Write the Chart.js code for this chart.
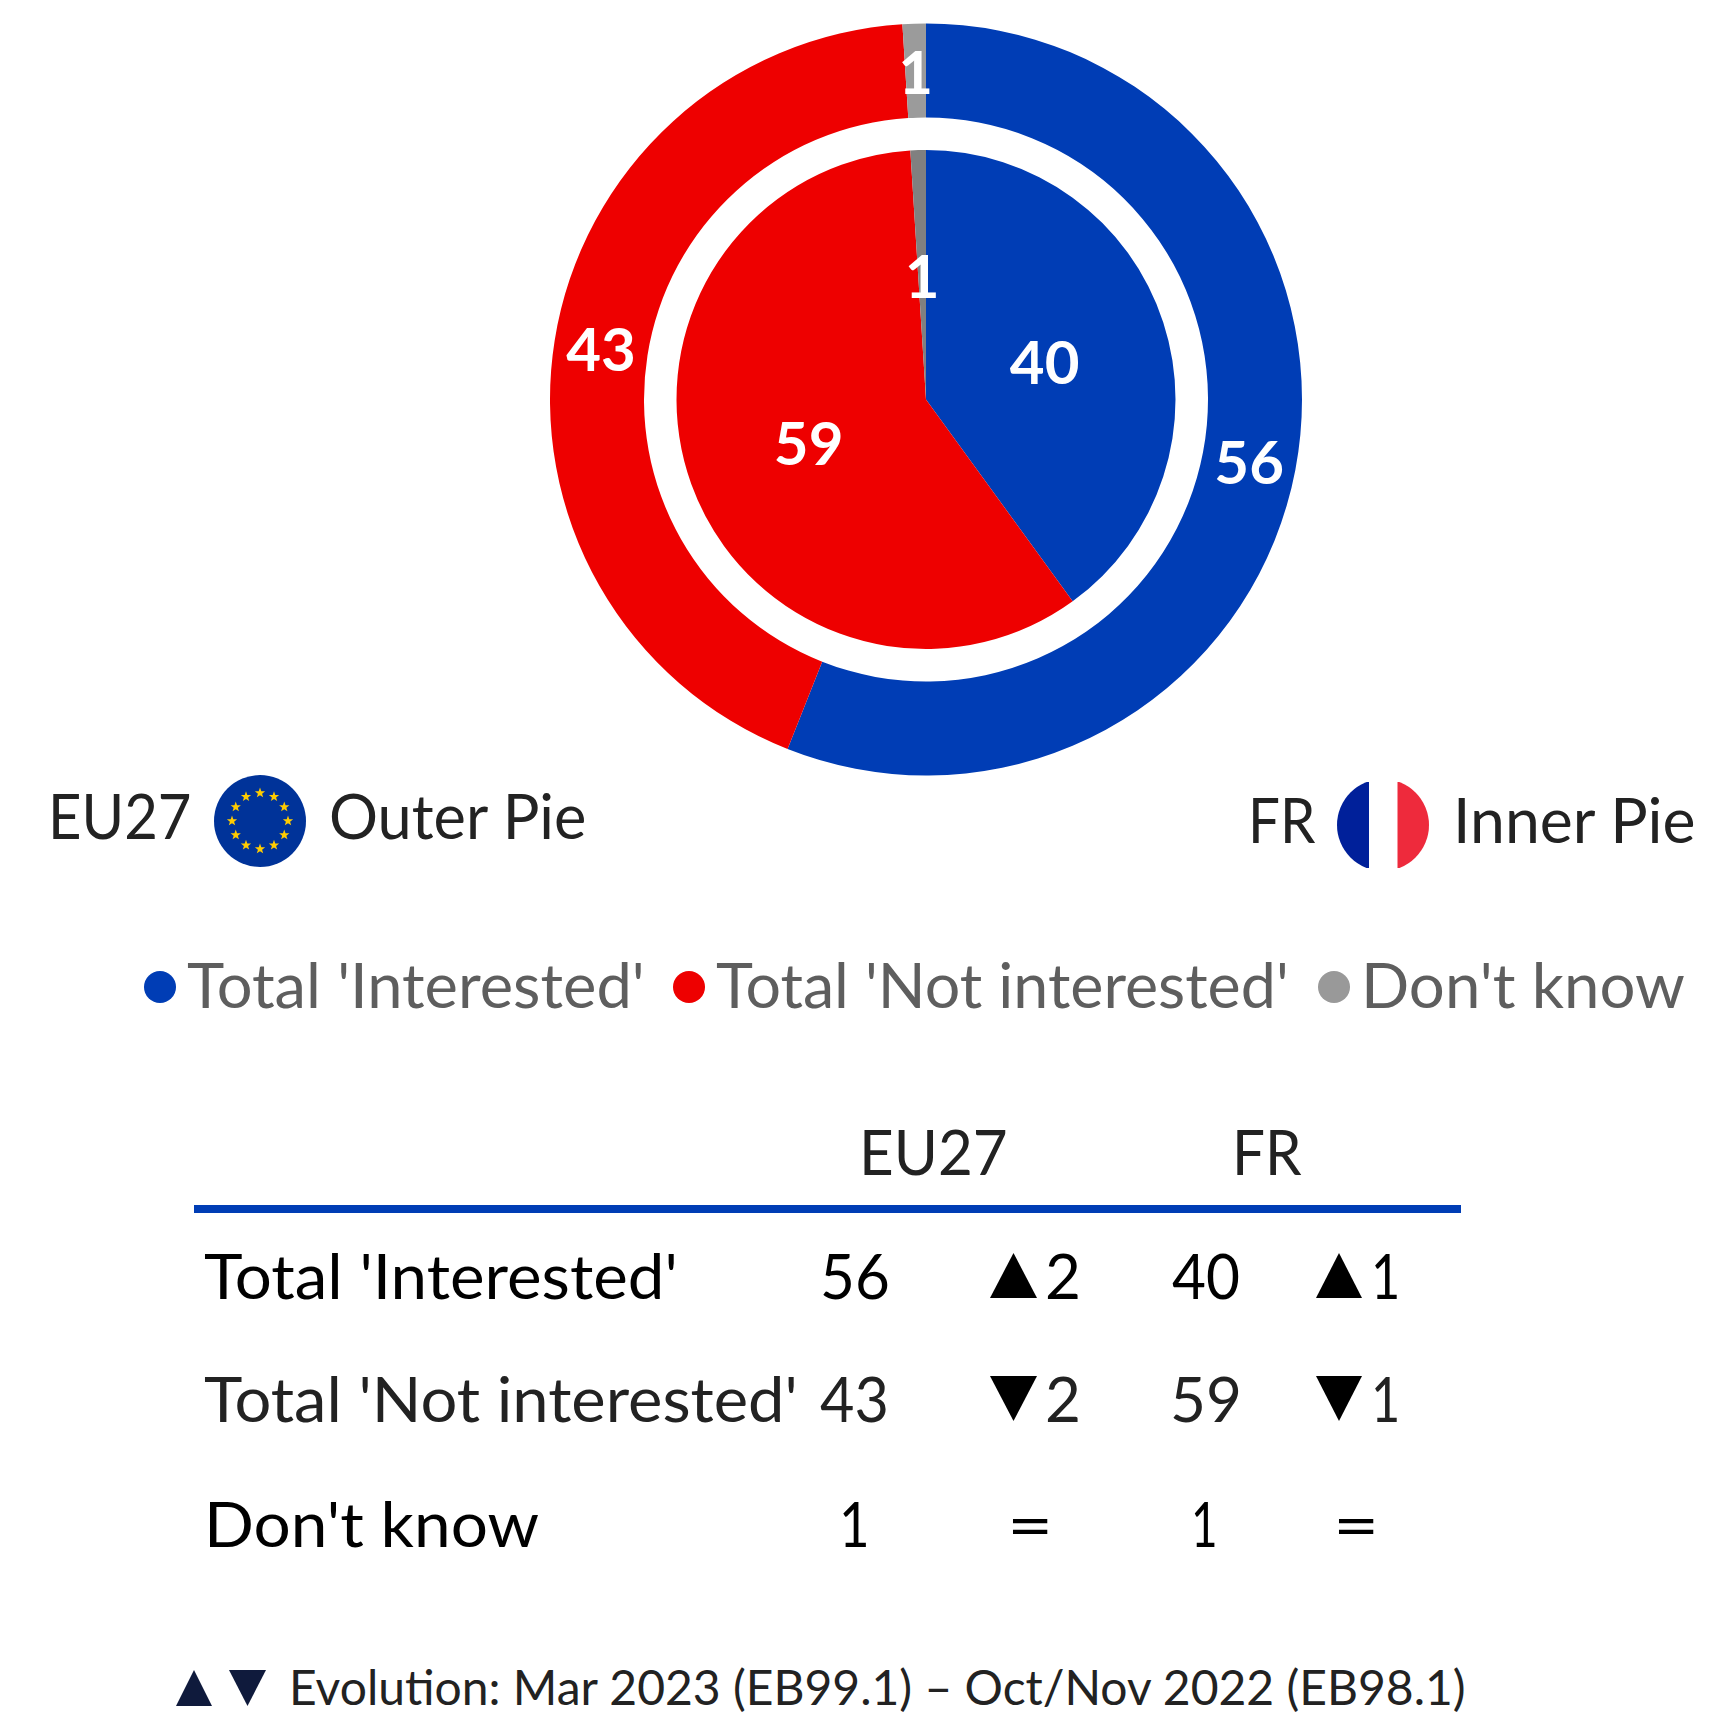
<!DOCTYPE html>
<html>
<head>
<meta charset="utf-8">
<title>Interest: EU27 and FR</title>
<script src="https://cdn.jsdelivr.net/npm/chart.js@4"></script>
<style>
html,body{margin:0;padding:0;background:#fff;width:1725px;height:1717px;overflow:hidden}
#page{position:relative;width:1725px;height:1717px;overflow:hidden}
#wrap{position:absolute;left:550px;top:23px;width:752px;height:753px}
.t{position:absolute;white-space:pre;transform-origin:0 0}
.s{position:absolute}
</style>
</head>
<body>
<div id="page"><div id="wrap"><canvas id="c" width="752" height="753"></canvas></div></div>
<script>
const categories = ["Total 'Interested'", "Total 'Not interested'", "Don't know"];
const eu27Values = [56, 43, 1];
const frValues = [40, 59, 1];
const eu27Changes = [2, -2, 0];
const frChanges = [1, -1, 0];
const eu27Colors = ['#003DB5', '#EE0000', '#9B9B9B'];
const frColors = ['#003DB5', '#EE0000', '#808080'];
const legendDotColors = ['#003DB5', '#EE0000', '#999999'];
const footnote = 'Evolution: Mar 2023 (EB99.1) – Oct/Nov 2022 (EB98.1)';

const FONT = 'Lato';
const page = document.getElementById('page');
const mc = document.createElement('canvas').getContext('2d');

function place(text, x0, x1, baseline, size, color) {
  const font = size + 'px ' + FONT;
  mc.font = font;
  const m = mc.measureText(text);
  const ink = m.actualBoundingBoxRight + m.actualBoundingBoxLeft;
  const sx = (x1 - x0) / ink;
  const asc = m.fontBoundingBoxAscent, desc = m.fontBoundingBoxDescent;
  const el = document.createElement('div');
  el.className = 't';
  el.textContent = text;
  el.style.font = font;
  el.style.lineHeight = (asc + desc) + 'px';
  el.style.color = color;
  el.style.left = (x0 + m.actualBoundingBoxLeft * sx) + 'px';
  el.style.top = (baseline - asc) + 'px';
  el.style.transform = 'scaleX(' + sx + ')';
  page.appendChild(el);
}
function shape(x0, y0, x1, y1, clip, color) {
  const el = document.createElement('div');
  el.className = 's';
  el.style.cssText = `left:${x0}px;top:${y0}px;width:${x1 - x0}px;height:${y1 - y0}px;background:${color};clip-path:${clip}`;
  page.appendChild(el);
}
const UP = 'polygon(50% 0,100% 100%,0 100%)', DOWN = 'polygon(0 0,100% 0,50% 100%)';
const DOT = 'circle(50% at 50% 50%)';

/* Flags */
function svg(cx, cy, r, inner) {
  const d = document.createElement('div');
  d.className = 's';
  d.style.cssText = `left:${cx - r}px;top:${cy - r}px;width:${2 * r}px;height:${2 * r}px`;
  d.innerHTML = `<svg xmlns="http://www.w3.org/2000/svg" width="${2 * r}" height="${2 * r}" viewBox="${-r} ${-r} ${2 * r} ${2 * r}">${inner}</svg>`;
  page.appendChild(d);
}
let stars = '';
for (let i = 0; i < 12; i++) {
  const a = i * Math.PI / 6, sx = 28 * Math.sin(a), sy = -28 * Math.cos(a);
  let p = [];
  for (let k = 0; k < 10; k++) {
    const b = k * Math.PI / 5, rr = k % 2 ? 2.2 : 5.4;
    p.push((sx + rr * Math.sin(b)).toFixed(2) + ',' + (sy - rr * Math.cos(b)).toFixed(2));
  }
  stars += `<polygon points="${p.join(' ')}" fill="#FFCC00"/>`;
}
svg(259.5, 821, 46, `<circle r="46" fill="#003399"/>${stars}`);
svg(1383, 825, 46, `<clipPath id="fc"><circle r="46"/></clipPath><g clip-path="url(#fc)"><rect x="-46" y="-43" width="32" height="86" fill="#00209A"/><rect x="14.5" y="-43" width="32" height="86" fill="#EE2A3C"/></g>`);

/* Pie captions */
place('EU27', 53, 190, 839, 62, '#222222');
place('Outer Pie', 331, 586, 839, 62, '#222222');
place('FR', 1253, 1316, 843, 62, '#222222');
place('Inner Pie', 1458, 1695, 843, 62, '#222222');

/* Legend */
const legendDots = [160, 689, 1334];
const legendText = [[187, 641], [716, 1285], [1366, 1684]];
categories.forEach((c, i) => {
  shape(legendDots[i] - 16, 971, legendDots[i] + 16, 1003, DOT, legendDotColors[i]);
  place(c, legendText[i][0], legendText[i][1], 1008, 62, '#5E5E5E');
});

/* Table */
place('EU27', 864, 1006, 1175, 62, '#222222');
place('FR', 1237, 1302, 1175, 62, '#222222');
shape(194, 1205, 1461, 1213, 'none', '#003DB5');
const rowBase = [1299, 1422, 1547];
const rowColor = ['#000000', '#222222', '#000000'];
const rowExt = [[204, 674], [204, 794], [209, 538]];
const euExt = [[823, 888], [820, 886], [843, 866]];
const frExt = [[1172, 1239], [1173, 1239], [1195, 1215]];
function change(v, triX0, triX1, numX0, numX1, eqX0, eqX1, base, color) {
  if (v === 0) { place('=', eqX0, eqX1, base + 1, 62, color); return; }
  shape(triX0, base - 46, triX1, base - 1, v > 0 ? UP : DOWN, '#000000');
  place(String(Math.abs(v)), numX0, numX1, base, 62, color);
}
categories.forEach((c, i) => {
  const b = rowBase[i], col = rowColor[i];
  place(c, rowExt[i][0], rowExt[i][1], b, 62, col);
  place(String(eu27Values[i]), euExt[i][0], euExt[i][1], b, 62, col);
  place(String(frValues[i]), frExt[i][0], frExt[i][1], b, 62, col);
  change(eu27Changes[i], 990, 1037, 1047, 1078, 1012, 1048, b, col);
  change(frChanges[i], 1316, 1362, 1375, 1397, 1338, 1374, b, col);
});

/* Footnote */
shape(176, 1670, 212, 1706, UP, '#0F1A3C');
shape(229, 1670, 266, 1706, DOWN, '#0F1A3C');
place(footnote, 293, 1466, 1705, 48, '#222222');

/* Chart */
const sliceLabels = {
  id: 'sliceLabels',
  afterDatasetsDraw(chart) {
    const ctx = chart.ctx;
    ctx.save();
    ctx.font = 'bold 60px ' + FONT;
    ctx.fillStyle = '#FFFFFF';
    ctx.textAlign = 'center';
    ctx.textBaseline = 'middle';
    chart.data.datasets.forEach((ds, di) => {
      if (ds.spacer) return;
      chart.getDatasetMeta(di).data.forEach((arc, i) => {
        const p = arc.getCenterPoint();
        ctx.fillText(String(ds.data[i]), p.x, p.y + 4);
      });
    });
    ctx.restore();
  }
};
new Chart(document.getElementById('c'), {
  type: 'doughnut',
  data: {
    labels: categories,
    datasets: [
      { label: 'EU27', data: eu27Values, backgroundColor: eu27Colors, weight: 94, borderWidth: 0 },
      { label: '', spacer: true, data: [100], backgroundColor: ['rgba(0,0,0,0)'], weight: 32.5, borderWidth: 0 },
      { label: 'FR', data: frValues, backgroundColor: frColors, weight: 249.5, borderWidth: 0 }
    ]
  },
  options: {
    responsive: false,
    animation: false,
    cutout: 0,
    layout: { padding: 0 },
    plugins: { legend: { display: false }, tooltip: { enabled: false }, title: { display: false } }
  },
  plugins: [sliceLabels]
});
</script>
</body>
</html>
